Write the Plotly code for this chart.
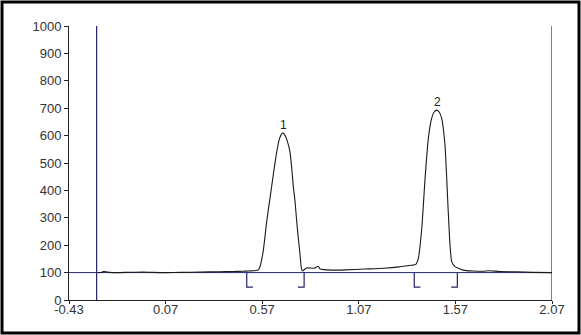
import plotly.graph_objects as go

# chromatogram signal
time = [-0.28, -0.26, -0.25, -0.24, -0.22, -0.18, -0.12, -0.05, 0.0, 0.07, 0.15, 0.25, 0.35,
        0.42, 0.47, 0.50, 0.53, 0.55, 0.56, 0.568, 0.576, 0.585, 0.593, 0.61, 0.627, 0.645,
        0.66, 0.676, 0.69, 0.70, 0.714, 0.723, 0.731, 0.74, 0.748, 0.757, 0.765, 0.772,
        0.778, 0.79, 0.80, 0.84, 0.86, 0.87, 0.93, 1.00, 1.10, 1.20, 1.28, 1.33, 1.355,
        1.365, 1.378, 1.396, 1.413, 1.43, 1.447, 1.46, 1.473, 1.486, 1.499, 1.516, 1.533,
        1.542, 1.551, 1.568, 1.61, 1.66, 1.715, 1.74, 1.80, 1.887, 1.97, 2.07]
signal = [100, 101, 105, 103, 101, 100, 101, 102, 101, 100, 101, 102, 103,
          104, 105, 106, 107, 110, 125, 150, 182, 235, 285, 370, 455, 540,
          590, 610, 598, 580, 540, 480, 413, 360, 292, 225, 171, 120,
          106, 112, 117, 116, 123, 113, 109, 110, 113, 116, 121, 126, 128,
          130, 152, 262, 444, 590, 663, 686, 693, 686, 663, 566, 322,
          201, 140, 122, 109, 106, 105, 107, 104, 103, 101, 100]

peak_labels = ["1", "2"]
peak_apex_t = [0.678, 1.475]
peak_apex_h = [610, 693]
peak_start = [0.49, 1.357]
peak_end = [0.787, 1.58]
baseline_level = 100
bracket_low = 47
bracket_arm = 0.032
marker_line_t = -0.287

x_ticks = [-0.43, 0.07, 0.57, 1.07, 1.57, 2.07]
x_tick_text = ["-0.43", "0.07", "0.57", "1.07", "1.57", "2.07"]
y_ticks = [0, 100, 200, 300, 400, 500, 600, 700, 800, 900, 1000]

navy = "#23236e"
fig = go.Figure()

# baseline
fig.add_trace(go.Scatter(x=[x_ticks[0], x_ticks[-1]], y=[baseline_level, baseline_level],
                         mode="lines", line=dict(color=navy, width=1), hoverinfo="skip"))
# vertical marker lines
fig.add_trace(go.Scatter(x=[marker_line_t, marker_line_t], y=[0, 1000], mode="lines",
                         line=dict(color=navy, width=1.2), hoverinfo="skip"))
fig.add_trace(go.Scatter(x=[x_ticks[-1], x_ticks[-1]], y=[0, 1000], mode="lines",
                         line=dict(color=navy, width=1.2), hoverinfo="skip"))

# integration brackets
bx, by = [], []
for s, e in zip(peak_start, peak_end):
    bx += [s, s, s + bracket_arm, None, e - bracket_arm, e, e, None]
    by += [baseline_level, bracket_low, bracket_low, None, bracket_low, bracket_low, baseline_level, None]
fig.add_trace(go.Scatter(x=bx, y=by, mode="lines", line=dict(color=navy, width=1.2),
                         hoverinfo="skip"))

# signal
fig.add_trace(go.Scatter(x=time, y=signal, mode="lines",
                         line=dict(color="#1a1a1a", width=1.1, shape="spline", smoothing=0.5)))

for lab, t, h in zip(peak_labels, peak_apex_t, peak_apex_h):
    fig.add_annotation(x=t, y=h, text=lab, showarrow=False, yshift=8,
                       font=dict(size=12, color="#222"))

fig.update_layout(
    width=581, height=335, showlegend=False,
    paper_bgcolor="white", plot_bgcolor="white",
    margin=dict(l=69, r=29, t=26, b=35),
    font=dict(family="Liberation Sans, Arial, sans-serif", size=13, color="#333"),
    xaxis=dict(range=[x_ticks[0], x_ticks[-1]], tickvals=x_ticks, ticktext=x_tick_text,
               showgrid=False, zeroline=False, showline=True, linecolor="#222", linewidth=1,
               ticks="outside", ticklen=3, tickcolor="#222", ticklabelstandoff=-6),
    yaxis=dict(range=[0, 1000], tickvals=y_ticks, showgrid=False, zeroline=False,
               showline=True, linecolor="#222", linewidth=1,
               ticks="outside", ticklen=4, tickcolor="#222"),
    shapes=[dict(type="rect", xref="paper", yref="paper",
                 x0=(2 - 69) / 483, x1=(579 - 69) / 483,
                 y0=(300 - 333) / 274, y1=(300 - 2) / 274,
                 line=dict(color="black", width=3))],
)

fig.write_html("out.html")
